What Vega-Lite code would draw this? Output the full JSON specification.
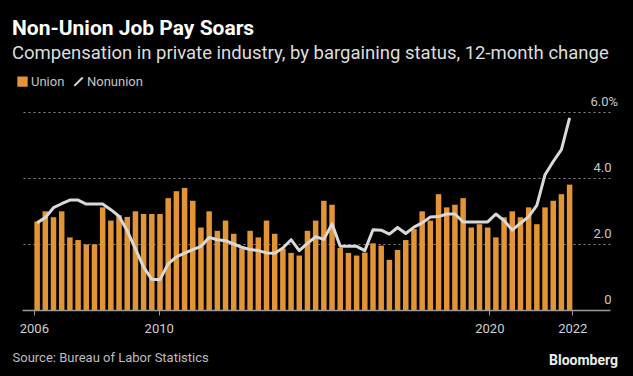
{
  "$schema": "https://vega.github.io/schema/vega-lite/v6.json",
  "autosize": {"type": "none"},
  "padding": {"left": 22, "top": 112, "right": 23, "bottom": 66},
  "width": 588,
  "height": 198,
  "background": "#000000",
  "config": {
    "view": {"stroke": null},
    "font": "Roboto"
  },
  "title": {
    "text": "Non-Union Job Pay Soars",
    "subtitle": "Compensation in private industry, by bargaining status, 12-month change",
    "anchor": "start",
    "frame": "group",
    "dx": -10,
    "fontSize": 21,
    "fontWeight": "bold",
    "color": "#ffffff",
    "subtitleFontSize": 18.5,
    "subtitleColor": "#dedede",
    "subtitlePadding": 5,
    "offset": 13
  },
  "data": {
    "values": [
      {"i": 0, "union": 2.68, "nonunion": 2.64},
      {"i": 1, "union": 2.99, "nonunion": 2.80},
      {"i": 2, "union": 2.81, "nonunion": 3.10},
      {"i": 3, "union": 2.99, "nonunion": 3.22},
      {"i": 4, "union": 2.20, "nonunion": 3.33},
      {"i": 5, "union": 2.12, "nonunion": 3.33},
      {"i": 6, "union": 1.99, "nonunion": 3.21},
      {"i": 7, "union": 1.99, "nonunion": 3.21},
      {"i": 8, "union": 3.11, "nonunion": 3.21},
      {"i": 9, "union": 2.71, "nonunion": 3.04},
      {"i": 10, "union": 2.87, "nonunion": 2.84},
      {"i": 11, "union": 2.82, "nonunion": 2.40},
      {"i": 12, "union": 2.99, "nonunion": 1.85},
      {"i": 13, "union": 2.91, "nonunion": 1.30},
      {"i": 14, "union": 2.91, "nonunion": 0.93},
      {"i": 15, "union": 2.91, "nonunion": 0.92},
      {"i": 16, "union": 3.39, "nonunion": 1.40},
      {"i": 17, "union": 3.60, "nonunion": 1.61},
      {"i": 18, "union": 3.70, "nonunion": 1.72},
      {"i": 19, "union": 3.31, "nonunion": 1.83},
      {"i": 20, "union": 2.50, "nonunion": 1.93},
      {"i": 21, "union": 2.99, "nonunion": 2.20},
      {"i": 22, "union": 2.40, "nonunion": 2.13},
      {"i": 23, "union": 2.71, "nonunion": 2.10},
      {"i": 24, "union": 2.31, "nonunion": 2.00},
      {"i": 25, "union": 1.87, "nonunion": 1.90},
      {"i": 26, "union": 2.40, "nonunion": 1.83},
      {"i": 27, "union": 2.20, "nonunion": 1.80},
      {"i": 28, "union": 2.71, "nonunion": 1.73},
      {"i": 29, "union": 2.31, "nonunion": 1.72},
      {"i": 30, "union": 1.86, "nonunion": 1.88},
      {"i": 31, "union": 1.73, "nonunion": 2.13},
      {"i": 32, "union": 1.65, "nonunion": 1.80},
      {"i": 33, "union": 2.40, "nonunion": 2.02},
      {"i": 34, "union": 2.71, "nonunion": 2.22},
      {"i": 35, "union": 3.31, "nonunion": 2.14},
      {"i": 36, "union": 3.19, "nonunion": 2.61},
      {"i": 37, "union": 1.88, "nonunion": 1.93},
      {"i": 38, "union": 1.73, "nonunion": 1.93},
      {"i": 39, "union": 1.65, "nonunion": 1.93},
      {"i": 40, "union": 1.74, "nonunion": 1.80},
      {"i": 41, "union": 2.02, "nonunion": 2.43},
      {"i": 42, "union": 1.95, "nonunion": 2.42},
      {"i": 43, "union": 1.52, "nonunion": 2.30},
      {"i": 44, "union": 1.82, "nonunion": 2.50},
      {"i": 45, "union": 2.12, "nonunion": 2.32},
      {"i": 46, "union": 2.45, "nonunion": 2.51},
      {"i": 47, "union": 2.99, "nonunion": 2.64},
      {"i": 48, "union": 2.71, "nonunion": 2.82},
      {"i": 49, "union": 3.51, "nonunion": 2.83},
      {"i": 50, "union": 3.11, "nonunion": 2.91},
      {"i": 51, "union": 3.19, "nonunion": 2.91},
      {"i": 52, "union": 3.39, "nonunion": 2.67},
      {"i": 53, "union": 2.50, "nonunion": 2.67},
      {"i": 54, "union": 2.60, "nonunion": 2.67},
      {"i": 55, "union": 2.50, "nonunion": 2.67},
      {"i": 56, "union": 2.20, "nonunion": 2.91},
      {"i": 57, "union": 2.81, "nonunion": 2.71},
      {"i": 58, "union": 2.99, "nonunion": 2.42},
      {"i": 59, "union": 2.81, "nonunion": 2.63},
      {"i": 60, "union": 3.11, "nonunion": 2.83},
      {"i": 61, "union": 2.60, "nonunion": 3.17},
      {"i": 62, "union": 3.11, "nonunion": 4.10},
      {"i": 63, "union": 3.31, "nonunion": 4.50},
      {"i": 64, "union": 3.51, "nonunion": 4.86},
      {"i": 65, "union": 3.80, "nonunion": 5.82}
    ]
  },
  "encoding": {
    "x": {
      "field": "i",
      "type": "quantitative",
      "scale": {"domain": [-1.236, 69.32], "nice": false, "zero": false},
      "axis": {
        "values": [-0.4, 14.84, 55.2, 65.33],
        "labelExpr": "datum.value < 5 ? '2006' : datum.value < 30 ? '2010' : datum.value < 60 ? '2020' : '2022'",
        "grid": false,
        "domainColor": "#9a9a9a",
        "domainWidth": 1.5,
        "tickColor": "#9a9a9a",
        "tickSize": 5,
        "labelFontSize": 13,
        "labelColor": "#cfcfcf",
        "labelPadding": 7,
        "labelFlush": false,
        "title": "Source: Bureau of Labor Statistics",
        "titleX": -10,
        "titleY": 47,
        "titleAlign": "left",
        "titleBaseline": "middle",
        "titleFontSize": 13,
        "titleFontWeight": "normal",
        "titleColor": "#bdbdbd"
      }
    }
  },
  "layer": [
    {
      "mark": {"type": "bar", "size": 5.5},
      "encoding": {
        "y": {
          "field": "union",
          "type": "quantitative",
          "scale": {"domain": [0, 6], "nice": false},
          "axis": {
            "orient": "right",
            "values": [0, 2, 4, 6],
            "labelExpr": "datum.value == 0 ? '0' : datum.value == 6 ? '6.0%' : format(datum.value, '.1f')",
            "grid": true,
            "gridDash": [2, 3],
            "gridColor": "#8a8a8a",
            "gridOpacity": {"condition": {"test": "datum.value == 0", "value": 0}, "value": 1},
            "domain": false,
            "ticks": false,
            "labelAlign": {"condition": {"test": "datum.value == 6", "value": "left"}, "value": "right"},
            "labelPadding": {"condition": {"test": "datum.value == 6", "value": -20}, "value": 1},
            "labelBaseline": "alphabetic",
            "labelOffset": -7,
            "labelFontSize": 13,
            "labelColor": "#c8c8c8",
            "title": "Bloomberg",
            "titleAngle": 0,
            "titleX": -27,
            "titleY": 248,
            "titleAlign": "center",
            "titleBaseline": "middle",
            "titleFontSize": 14,
            "titleFontWeight": "bold",
            "titleColor": "#ececec"
          }
        },
        "color": {
          "datum": "Union",
          "type": "nominal",
          "scale": {"domain": ["Union", "Nonunion"], "range": ["#e39434", "#d9d9d9"]},
          "legend": {
            "orient": "none",
            "direction": "horizontal",
            "legendX": -6,
            "legendY": -37,
            "title": null,
            "labelFontSize": 13,
            "labelColor": "#c4c4c4",
            "labelOffset": 2,
            "columnPadding": 5,
            "symbolSize": 70,
            "encode": {
              "symbols": {
                "update": {
                  "shape": {"signal": "datum.value == 'Union' ? 'square' : 'M-1,1L1,-1'"},
                  "fill": {"signal": "datum.value == 'Union' ? '#e39434' : 'transparent'"},
                  "stroke": {"signal": "datum.value == 'Union' ? 'transparent' : '#d9d9d9'"},
                  "strokeWidth": {"value": 2},
                  "opacity": {"value": 1}
                }
              }
            }
          }
        }
      }
    },
    {
      "mark": {"type": "line", "strokeWidth": 3, "strokeJoin": "round"},
      "encoding": {
        "y": {"field": "nonunion", "type": "quantitative"},
        "color": {"datum": "Nonunion", "type": "nominal"}
      }
    }
  ]
}
